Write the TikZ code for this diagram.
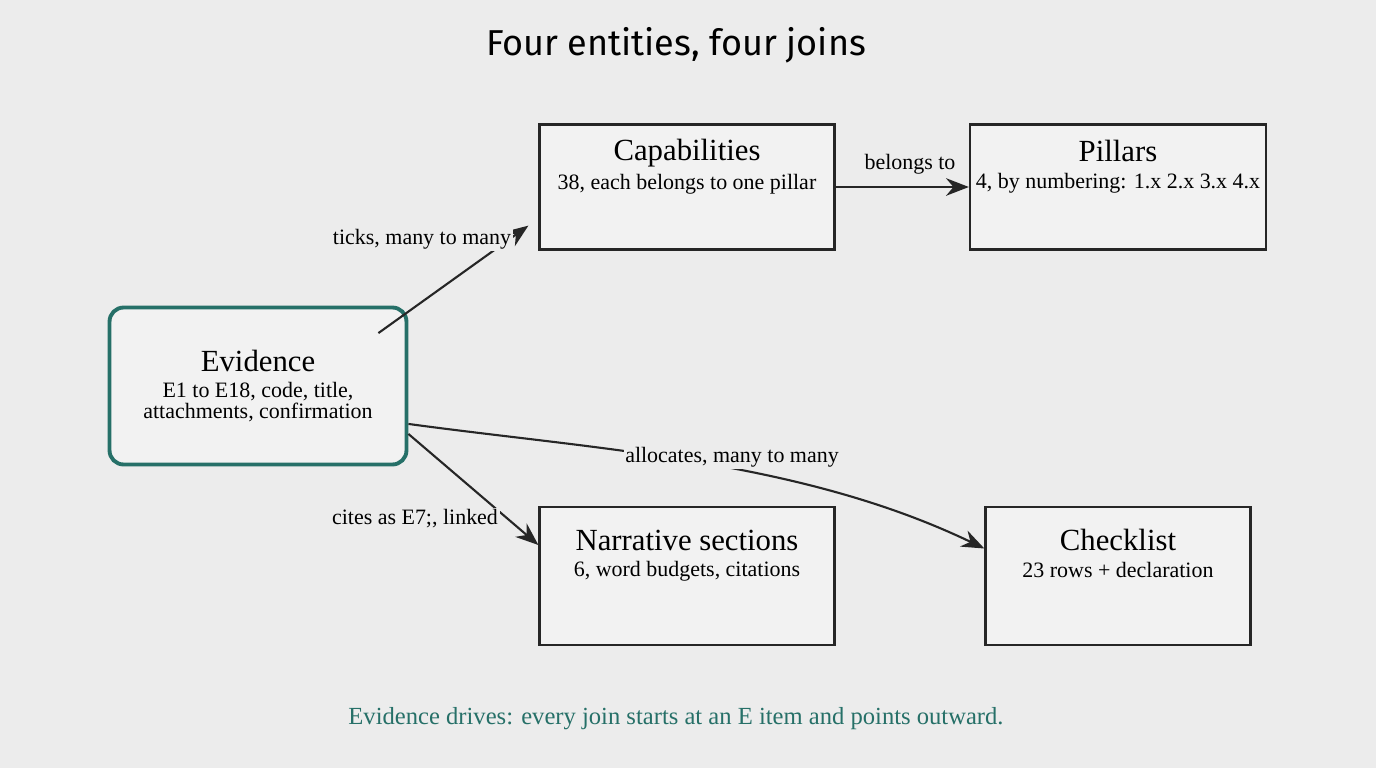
\documentclass[tikz,border=0pt]{standalone}
\usepackage{fontspec}
\setmainfont{Liberation Serif}
\newfontfamily\titlefont{Fira Sans}
\usetikzlibrary{positioning}
\usetikzlibrary{arrows.meta}
\definecolor{teal}{RGB}{38,112,104}
\definecolor{paper}{RGB}{236,236,236}

\begin{document}
\begin{tikzpicture}[x=0.02cm, y=-0.02cm,
    entity/.style = {draw=black!85, line width=1.3pt, fill=paper!70!white, align=center},
    link/.style = {draw=black!85, line width=1.2pt, -{Stealth[length=13pt, width=10pt]}},
    lbl/.style = {font=\fontsize{12.5}{14}\selectfont, fill=paper, inner sep=1pt}]
    \fill[paper] (0,0) rectangle (1376,768);
    \useasboundingbox (0,0) rectangle (1376,768);

    \node (title) at (676,45) {\titlefont\fontsize{20.5}{24}\selectfont Four entities, four joins};

    \node[entity, minimum width=5.9cm, minimum height=2.5cm] (cap) at (687,187)
        {{\fontsize{17.5}{20}\selectfont Capabilities}\\[3pt]{\fontsize{12.5}{14}\selectfont 38, each belongs to one pillar}\\[14pt]};
    \node[entity, minimum width=5.3cm, minimum height=2.5cm] (pil) at (1118,187)
        {{\fontsize{17.5}{20}\selectfont Pillars}\\[3pt]{\fontsize{12.5}{14}\selectfont 4, by numbering: 1.x 2.x 3.x 4.x}\\[14pt]};
    \node[entity, draw=teal, line width=2.2pt, rounded corners=8pt, minimum width=5.94cm, minimum height=3.14cm] (ev) at (258,386)
        {{\fontsize{17.5}{20}\selectfont Evidence}\\[3pt]{\fontsize{12.5}{14}\selectfont E1 to E18, code, title,}\\{\fontsize{12.5}{14}\selectfont attachments, confirmation}};
    \node[entity, minimum width=5.9cm, minimum height=2.76cm] (nar) at (687,576)
        {{\fontsize{17.5}{20}\selectfont Narrative sections}\\[3pt]{\fontsize{12.5}{14}\selectfont 6, word budgets, citations}\\[14pt]};
    \node[entity, minimum width=5.3cm, minimum height=2.76cm] (chk) at (1118,576)
        {{\fontsize{17.5}{20}\selectfont Checklist}\\[3pt]{\fontsize{12.5}{14}\selectfont 23 rows + declaration}\\[14pt]};

    \draw[link] ([xshift=-0.6cm, yshift=-0.55cm]ev.north east) -- ([yshift=0.5cm, xshift=-0.2cm]cap.south west);
    \draw[link] (cap.east) -- (pil.west);
    \draw[link] ([yshift=0.85cm]ev.south east) .. controls (600,450) and (800,460) .. ([yshift=0.55cm]chk.west);
    \draw[link] ([yshift=0.65cm]ev.south east) -- ([yshift=0.62cm]nar.west);

    \node[lbl] at (422,239) {ticks, many to many};
    \node[lbl, fill=none] at (910,164) {belongs to};
    \node[lbl] at (732,457) {allocates, many to many};
    \node[lbl] at (415,519) {cites as E7;, linked};

    \node (note) at (676,719) {\color{teal}\fontsize{14}{16}\selectfont Evidence drives: every join starts at an E item and points outward.};
\end{tikzpicture}
\end{document}
